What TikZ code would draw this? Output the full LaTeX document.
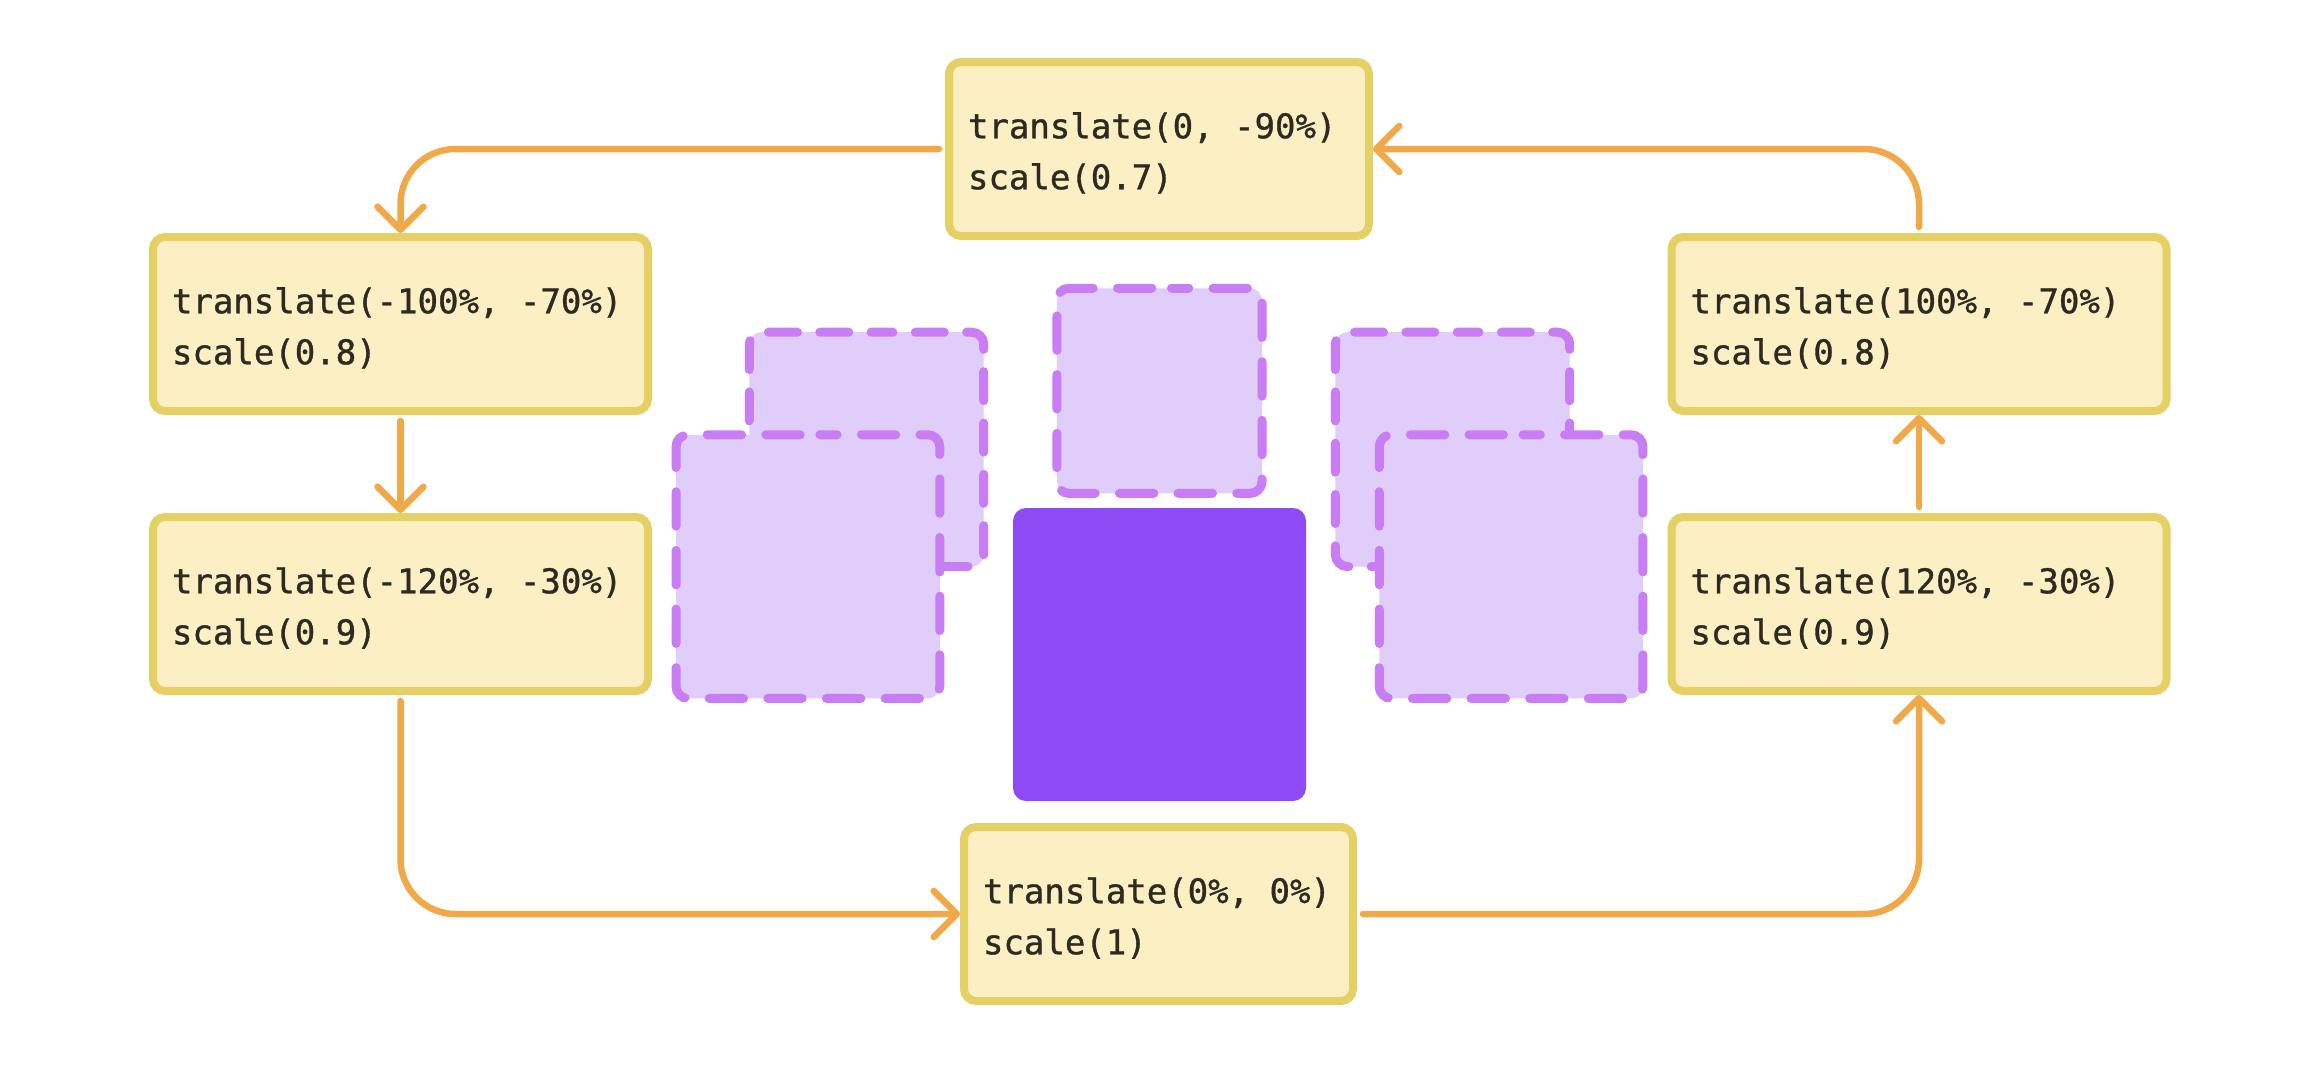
\documentclass[tikz,border=0pt]{standalone}
\usepackage{fontspec}
\newfontfamily\boxmono[UprightFeatures={FakeBold=1}]{DejaVu Sans Mono}
\usetikzlibrary{arrows.meta}
\definecolor{boxfill}{HTML}{FCEFC4}
\definecolor{boxline}{HTML}{E4D064}
\definecolor{arrowc}{HTML}{F0A848}
\definecolor{dashline}{HTML}{C87DF5}
\definecolor{dashfill}{HTML}{E0CDFA}
\definecolor{solidp}{HTML}{8E4BF5}
\definecolor{txt}{HTML}{2E2A22}
\newcommand{\msp}{\hspace*{0.602em}}
\newcommand{\topstrut}{\rule{0pt}{34pt}}
\tikzset{
  tbox/.style={draw=boxline, fill=boxfill, line width=8pt, rounded corners=12pt,
    text=txt, font=\boxmono\fontsize{34}{51}\selectfont, align=left,
    inner xsep=19pt, minimum height=174pt},
  flow/.style={draw=arrowc, line width=6.5pt, line cap=round,
    -{Straight Barb[length=23pt,width=46pt,round]}, shorten <=6pt},
  dsq/.style={draw=dashline, fill=dashfill, line width=9pt, line cap=round, rounded corners=12pt},
}
\newcommand{\dashsquare}[4]{%
  \pgfmathsetmacro{\dsqh}{#3/2}%
  \pgfmathsetmacro{\dsqper}{(4*#3-16*12+2*pi*12)/#4}%
  \pgfmathsetmacro{\dsqon}{0.74*\dsqper-9}%
  \pgfmathsetmacro{\dsqoff}{\dsqper-\dsqon}%
  \pgfmathsetmacro{\dsqph}{\dsqon/2}%
  \filldraw[dsq, dash pattern=on \dsqon pt off \dsqoff pt, dash phase=\dsqph pt]
    (#1,#2-\dsqh) -- (#1+\dsqh,#2-\dsqh) -- (#1+\dsqh,#2+\dsqh) -- (#1-\dsqh,#2+\dsqh) -- (#1-\dsqh,#2-\dsqh) -- cycle;%
}
\begin{document}
\begin{tikzpicture}[x=1pt,y=-1pt]
\useasboundingbox[fill=white] (0,0) rectangle (2320,1082);

% squares
\dashsquare{866.5}{449.4}{234.4}{16}
\dashsquare{1452.5}{449.4}{234.4}{16}
\dashsquare{807.9}{566.6}{263.7}{16}
\dashsquare{1511.1}{566.6}{263.7}{16}
\dashsquare{1159.5}{390.8}{205.1}{12}
\fill[solidp, rounded corners=13pt] (1013,508) rectangle (1306,801);

% boxes
\node[tbox, text width=382pt] (top) at (1159,149) {\topstrut translate(0,\msp-90\%)\\scale(0.7)};
\node[tbox, text width=457pt] (l1) at (400.5,324) {\topstrut translate(-100\%,\msp-70\%)\\scale(0.8)};
\node[tbox, text width=457pt] (l2) at (400.5,604) {\topstrut translate(-120\%,\msp-30\%)\\scale(0.9)};
\node[tbox, text width=351pt] (b) at (1158.5,914) {\topstrut translate(0\%,\msp0\%)\\scale(1)};
\node[tbox, text width=457pt] (r1) at (1919,324) {\topstrut translate(100\%,\msp-70\%)\\scale(0.8)};
\node[tbox, text width=457pt] (r2) at (1919,604) {\topstrut translate(120\%,\msp-30\%)\\scale(0.9)};

% connectors
\draw[flow] (top.west) [rounded corners=55pt] -| (l1.north);
\draw[flow] (l1.south) -- (l2.north);
\draw[flow] (l2.south) [rounded corners=55pt] |- (b.west);
\draw[flow] (b.east) [rounded corners=55pt] -| (r2.south);
\draw[flow] (r2.north) -- (r1.south);
\draw[flow] (r1.north) [rounded corners=55pt] |- (top.east);
\end{tikzpicture}
\end{document}
